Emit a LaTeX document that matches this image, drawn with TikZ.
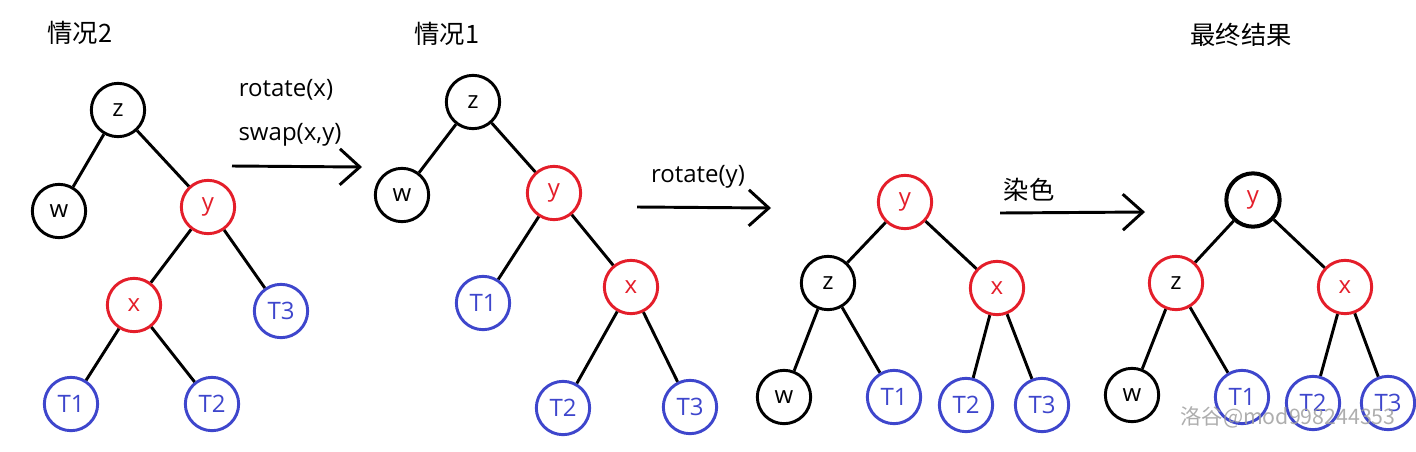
\documentclass[tikz,border=0pt]{standalone}
\usepackage{fontspec}
\setmainfont{Open Sans}
\newfontfamily\cjk{Noto Sans CJK SC}
\usetikzlibrary{arrows.meta}
\definecolor{rbred}{RGB}{228,30,42}
\definecolor{rbblue}{RGB}{62,70,204}
\definecolor{wmgray}{RGB}{160,160,160}

\tikzset{
  vertex/.style={circle, draw, line width=2.2pt, minimum size=40pt, inner sep=0pt,
    font=\fontsize{18}{20}\selectfont},
  blk/.style={vertex, draw=black, text=black},
  redv/.style={vertex, draw=rbred, text=rbred},
  sub/.style={vertex, draw=rbblue, text=rbblue},
  edge/.style={line width=2.2pt},
  steparrow/.style={line width=2.2pt, -{Straight Barb[length=15pt,width=27pt,line width=2.2pt]}},
  lbl/.style={font=\fontsize{18}{20}\selectfont, inner sep=0pt},
  title/.style={font=\cjk\fontsize{19}{22}\selectfont, inner sep=0pt}
}

\begin{document}
\begin{tikzpicture}[x=0.75pt,y=0.75pt,yscale=-1,xscale=1]
\useasboundingbox (0,0) rectangle (1416,451);

% Titles
\node[title] (tA) at (80,33) {情况2};
\node[title] (tB) at (447,34) {情况1};
\node[title] (tD) at (1241,35) {最终结果};

% Tree A
\node[blk] (az) at (118,110) {z};
\node[blk] (aw) at (59,211) {w};
\node[redv] (ay) at (208,207) {y};
\node[redv] (ax) at (134,305) {x};
\node[sub] (at3) at (281,311) {T3};
\node[sub] (at1) at (71,404) {T1};
\node[sub] (at2) at (212,404) {T2};
\draw[edge] (az) -- (aw);
\draw[edge] (az) -- (ay);
\draw[edge] (ay) -- (ax);
\draw[edge] (ay) -- (at3);
\draw[edge] (ax) -- (at1);
\draw[edge] (ax) -- (at2);

% Step 1
\node[lbl] (l1a) at (286,90) {rotate(x)};
\node[lbl] (l1b) at (290,135) {swap(x,y)};
\coordinate (s1a) at (232,166);
\coordinate (s1b) at (362,167);
\draw[steparrow] (s1a) -- (s1b);

% Tree B
\node[blk] (bz) at (473,102) {z};
\node[blk] (bw) at (402,195) {w};
\node[redv] (by) at (554,193) {y};
\node[sub] (bt1) at (483,303) {T1};
\node[redv] (bx) at (631,287) {x};
\node[sub] (bt2) at (563,408) {T2};
\node[sub] (bt3) at (690,407) {T3};
\draw[edge] (bz) -- (bw);
\draw[edge] (bz) -- (by);
\draw[edge] (by) -- (bt1);
\draw[edge] (by) -- (bx);
\draw[edge] (bx) -- (bt2);
\draw[edge] (bx) -- (bt3);

% Step 2
\node[lbl] (l2) at (698,177) {rotate(y)};
\coordinate (s2a) at (637,207);
\coordinate (s2b) at (771,208);
\draw[steparrow] (s2a) -- (s2b);

% Tree C
\node[redv] (cy) at (905,202) {y};
\node[blk] (cz) at (828,283) {z};
\node[redv] (cx) at (997,288) {x};
\node[blk] (cw) at (784,397) {w};
\node[sub] (ct1) at (894,397) {T1};
\node[sub] (ct2) at (966,405) {T2};
\node[sub] (ct3) at (1042,405) {T3};
\draw[edge] (cy) -- (cz);
\draw[edge] (cy) -- (cx);
\draw[edge] (cz) -- (cw);
\draw[edge] (cz) -- (ct1);
\draw[edge] (cx) -- (ct2);
\draw[edge] (cx) -- (ct3);

% Step 3
\node[title] (l3) at (1029,190) {染色};
\coordinate (s3a) at (1000,213);
\coordinate (s3b) at (1145,212);
\draw[steparrow] (s3a) -- (s3b);

% Tree D
\node[vertex, draw=black, text=rbred, line width=3pt] (dy) at (1253,200) {y};
\node[vertex, draw=rbred, text=black] (dz) at (1176,283) {z};
\node[redv] (dx) at (1345,287) {x};
\node[blk] (dw) at (1132,395) {w};
\node[sub] (dt1) at (1242,397) {T1};
\node[sub] (dt2) at (1313,403) {T2};
\node[sub] (dt3) at (1388,403) {T3};
\draw[edge] (dy) -- (dz);
\draw[edge] (dy) -- (dx);
\draw[edge] (dz) -- (dw);
\draw[edge] (dz) -- (dt1);
\draw[edge] (dx) -- (dt2);
\draw[edge] (dx) -- (dt3);

% watermark
\node[font=\cjk\fontsize{16}{18}\selectfont, text=wmgray, text opacity=0.85, inner sep=0pt] (wm) at (1288,417) {洛谷@mod998244353};

\end{tikzpicture}
\end{document}
